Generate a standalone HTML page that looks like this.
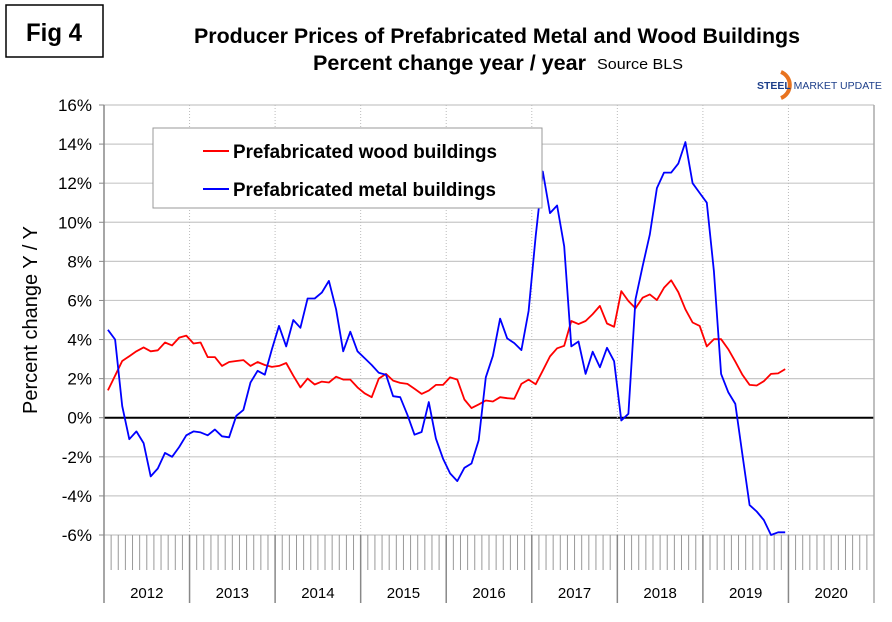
<!DOCTYPE html>
<html><head><meta charset="utf-8"><style>
body{margin:0;background:#fff;width:892px;height:622px;overflow:hidden;font-family:"Liberation Sans",sans-serif}
svg{position:absolute;left:0;top:0}
</style></head><body>
<svg id="chart" width="892" height="622" xmlns="http://www.w3.org/2000/svg">
<rect x="6" y="5" width="97" height="52" fill="#fff" stroke="#000" stroke-width="1.5"/>
<text x="26" y="41" font-size="25" font-weight="bold" textLength="56" lengthAdjust="spacingAndGlyphs">Fig 4</text>
<text x="194" y="43" font-size="21" font-weight="bold" textLength="606" lengthAdjust="spacingAndGlyphs">Producer Prices of Prefabricated Metal and Wood Buildings</text>
<text x="313" y="70" font-size="21" font-weight="bold" textLength="273" lengthAdjust="spacingAndGlyphs">Percent change year / year</text>
<text x="597" y="69" font-size="15" textLength="86" lengthAdjust="spacingAndGlyphs">Source BLS</text>
<g>
<path d="M781 72 A14 14 0 0 1 781 98" fill="none" stroke="#e8731f" stroke-width="4"/>
<text x="757" y="89" font-size="10.5" font-weight="bold" fill="#1d3f8a">STEEL <tspan font-weight="normal">MARKET UPDATE</tspan></text>
</g>
<g id="grid"></g>
<g id="axes"></g>
<g id="series"></g>
<text transform="translate(37,320) rotate(-90)" font-size="20" text-anchor="middle">Percent change Y / Y</text>
<g>
<rect x="153" y="128" width="389" height="80" fill="#fff" stroke="#999" stroke-width="1"/>
<line x1="203" y1="151" x2="229" y2="151" stroke="#f00" stroke-width="2"/>
<text x="233" y="158" font-size="19" font-weight="bold" textLength="264" lengthAdjust="spacingAndGlyphs">Prefabricated wood buildings</text>
<line x1="203" y1="189" x2="229" y2="189" stroke="#00f" stroke-width="2"/>
<text x="233" y="196" font-size="19" font-weight="bold" textLength="263" lengthAdjust="spacingAndGlyphs">Prefabricated metal buildings</text>
</g>
</svg>
<script>
const years = ["2012","2013","2014","2015","2016","2017","2018","2019","2020"];
const yTicks = [16,14,12,10,8,6,4,2,0,-2,-4,-6];
const woodValues = [1.4,2.15,2.9,3.15,3.4,3.6,3.4,3.45,3.85,3.7,4.1,4.2,3.8,3.85,3.1,3.1,2.65,2.85,2.9,2.95,2.65,2.85,2.7,2.6,2.65,2.8,2.15,1.55,2.0,1.7,1.85,1.8,2.1,1.95,1.95,1.55,1.25,1.05,2.0,2.24,1.9,1.78,1.73,1.48,1.22,1.39,1.68,1.68,2.07,1.95,0.93,0.49,0.68,0.88,0.83,1.05,1.0,0.97,1.73,1.95,1.71,2.41,3.14,3.55,3.68,4.95,4.79,4.95,5.3,5.72,4.82,4.65,6.48,5.97,5.6,6.14,6.31,6.02,6.65,7.03,6.43,5.55,4.87,4.7,3.65,4.02,4.02,3.51,2.87,2.19,1.68,1.65,1.87,2.24,2.27,2.49];
const metalValues = [4.5,4.0,0.6,-1.1,-0.7,-1.3,-3.0,-2.6,-1.8,-2.0,-1.5,-0.9,-0.7,-0.75,-0.9,-0.6,-0.95,-1.0,0.1,0.4,1.8,2.4,2.2,3.5,4.7,3.65,5.0,4.6,6.1,6.1,6.4,7.0,5.55,3.4,4.4,3.4,3.05,2.7,2.3,2.2,1.1,1.05,0.15,-0.87,-0.73,0.8,-1.07,-2.09,-2.85,-3.24,-2.56,-2.34,-1.15,2.07,3.17,5.07,4.06,3.82,3.46,5.46,9.3,12.6,10.47,10.86,8.77,3.65,3.9,2.24,3.38,2.58,3.58,2.89,-0.14,0.2,6.06,7.75,9.37,11.75,12.54,12.54,13.0,14.1,12.0,11.5,11.0,7.5,2.24,1.31,0.71,-1.92,-4.47,-4.8,-5.23,-6.0,-5.86,-5.86];

const NS="http://www.w3.org/2000/svg";
const L=104,R=874,T=105,B=535,yMin=-6,yMax=16,months=108;
const xScale=m=>L+(R-L)*m/months;
const yScale=v=>B-(B-T)*(v-yMin)/(yMax-yMin);
function mk(tag,attrs,parent){const e=document.createElementNS(NS,tag);for(const k in attrs)e.setAttribute(k,attrs[k]);parent.appendChild(e);return e;}
const grid=document.getElementById('grid'),axes=document.getElementById('axes'),series=document.getElementById('series');

yTicks.forEach(v=>{
  const y=yScale(v);
  const gl=mk('line',{x1:L,x2:R,y1:y,y2:y,stroke:v===0?'#000':'#c8c8c8','stroke-width':v===0?2:1.2},grid);
  
  
  mk('line',{x1:L-5,x2:L,y1:y,y2:y,stroke:'#888'},axes);
  const t=mk('text',{x:92,y:y+6,'font-size':17,'text-anchor':'end'},axes);
  t.textContent=v+'%';
  
  
});
years.forEach((yr,i)=>{
  const x0=xScale(i*12);
  if(i>0){const vl=mk('line',{x1:x0,x2:x0,y1:T,y2:B,stroke:'#bbb','stroke-dasharray':'1,2'},grid);
    
    }
  mk('line',{x1:x0,x2:x0,y1:B,y2:603,stroke:'#888','stroke-width':1.5},axes);
  for(let m=1;m<12;m++){const xm=xScale(i*12+m);mk('line',{x1:xm,x2:xm,y1:B,y2:570,stroke:'#999'},axes);}
  const t=mk('text',{x:xScale(i*12+6),y:598,'font-size':15,'text-anchor':'middle'},axes);
  t.textContent=yr;
  
  
});
mk('line',{x1:R,x2:R,y1:T,y2:603,stroke:'#aaa','stroke-width':1.5},axes);
mk('line',{x1:L,x2:L,y1:T,y2:B,stroke:'#888','stroke-width':1.5},axes);

function drawLine(vals,color,name){
  const d=vals.map((v,i)=>(i?'L':'M')+xScale(i+0.55).toFixed(1)+' '+yScale(v).toFixed(1)).join(' ');
  const p=mk('path',{d:d,fill:'none',stroke:color,'stroke-width':1.8,'stroke-linejoin':'round'},series);
  
  
}
drawLine(woodValues,'#f00','wood-buildings-line');
drawLine(metalValues,'#00f','metal-buildings-line');
</script>
</body></html>
